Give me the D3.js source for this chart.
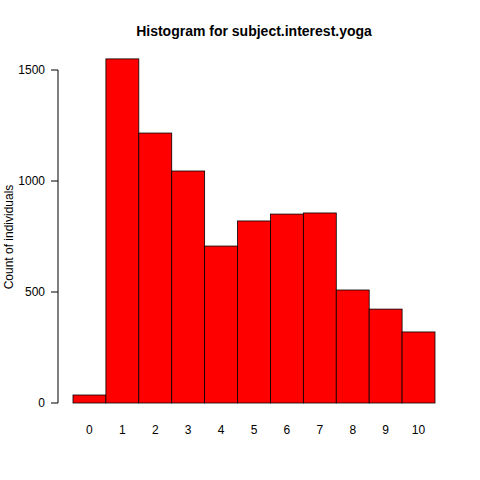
<!DOCTYPE html>
<html><head><meta charset="utf-8">
<script src="https://cdn.jsdelivr.net/npm/d3@7"></script>
<style>body{margin:0;background:#fff}text{font-family:"Liberation Sans",Arial,sans-serif}</style>
</head><body><div id="chart"></div>
<script>
var categories = ["0","1","2","3","4","5","6","7","8","9","10"];
var counts = [36, 1550, 1216, 1045, 707, 820, 851, 856, 509, 423, 320];
var yTicks = [0, 500, 1000, 1500];

var svg = d3.select("#chart").append("svg").attr("width", 480).attr("height", 480);

var x = d3.scaleBand().domain(categories).range([73, 435]).padding(0);
var y = d3.scaleLinear().domain([0, 1500]).range([403, 70]);

svg.selectAll("rect").data(counts).enter().append("rect")
  .attr("x", function (d, i) { return x(categories[i]); })
  .attr("y", function (d) { return y(d); })
  .attr("width", x.bandwidth())
  .attr("height", function (d) { return y(0) - y(d); })
  .attr("fill", "#ff0000").attr("stroke", "#000").attr("stroke-width", 0.8);

// y axis
svg.append("line").attr("x1", 58).attr("x2", 58).attr("y1", y(0)).attr("y2", y(1500)).attr("stroke", "#000");
svg.selectAll(".yt").data(yTicks).enter().append("line")
  .attr("x1", 51).attr("x2", 58).attr("y1", y).attr("y2", y).attr("stroke", "#000");
svg.selectAll(".yl").data(yTicks).enter().append("text")
  .attr("x", 45).attr("y", function (d) { return y(d) + 4; })
  .attr("text-anchor", "end").attr("font-size", 12).text(function (d) { return d; });

// x labels
svg.selectAll(".xl").data(categories).enter().append("text")
  .attr("x", function (d) { return x(d) + x.bandwidth() / 2; })
  .attr("y", 434).attr("text-anchor", "middle").attr("font-size", 12).text(function (d) { return d; });

svg.append("text").attr("transform", "translate(13,237) rotate(-90)")
  .attr("text-anchor", "middle").attr("font-size", 12).text("Count of individuals");

svg.append("text").attr("x", 254).attr("y", 36).attr("text-anchor", "middle")
  .attr("font-size", 14).attr("font-weight", "bold").text("Histogram for subject.interest.yoga");
</script></body></html>
